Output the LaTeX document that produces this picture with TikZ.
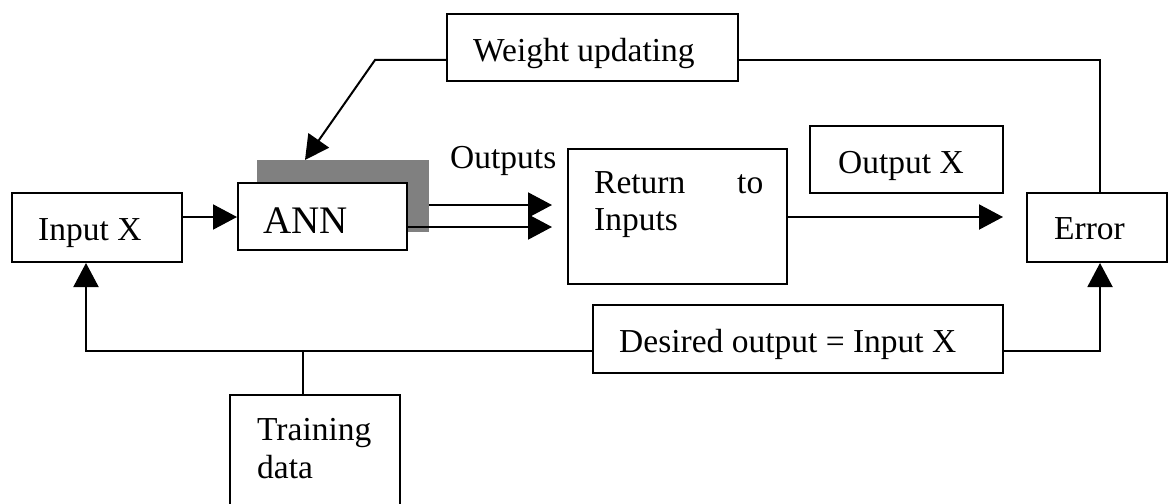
\documentclass[tikz,border=0pt]{standalone}
\usepackage{fontspec}
\setmainfont{Liberation Serif}
\usetikzlibrary{arrows.meta}
\definecolor{shadowgray}{HTML}{808080}
\tikzset{
  blk/.style={draw=black, line width=2pt, fill=white, inner sep=0pt, rectangle},
  lbl/.style={anchor=base west, inner sep=0pt, font=\fontsize{33.5}{40}\selectfont},
  wire/.style={draw=black, line width=2pt},
  arr/.style={wire, -{Triangle[length=24pt,width=25pt]}},
}
\begin{document}
\begin{tikzpicture}[x=1pt,y=-1pt]
\useasboundingbox (0,0) rectangle (1169,503);

% boxes (centre, width, height)
\node[blk, minimum width=170pt, minimum height=69pt] (inx) at (97,227.5) {};
\fill[shadowgray] (257,160) rectangle (429,232);
\node[blk, minimum width=169pt, minimum height=67pt] (ann) at (322.5,216.5) {};
\node[blk, minimum width=219pt, minimum height=135pt] (ret) at (677.5,216.5) {};
\node[blk, minimum width=193pt, minimum height=67pt] (outx) at (906.5,159.5) {};
\node[blk, minimum width=140pt, minimum height=69pt] (err) at (1097,227.5) {};
\node[blk, minimum width=291pt, minimum height=67pt] (wu) at (592.5,47.5) {};
\node[blk, minimum width=410pt, minimum height=68pt] (des) at (798,339) {};
\node[blk, minimum width=170pt, minimum height=120pt] (trn) at (315,455) {};

% texts
\node[lbl] (tinx) at (38,240) {Input X};
\node[lbl, font=\fontsize{39}{44}\selectfont] (tann) at (263,233) {ANN};
\node[lbl] (tout) at (450,168) {Outputs};
\node[lbl] (tret) at (594,193) {Return};
\node[lbl] (tto) at (737,193) {to};
\node[lbl] (tinp) at (594,230) {Inputs};
\node[lbl] (toutx) at (838,173) {Output X};
\node[lbl] (terr) at (1054,239) {Error};
\node[lbl] (twu) at (473,62) {Weight updating};
\node[lbl] (tdes) at (619,352) {Desired output = Input X};
\node[lbl] (ttrn) at (257,440) {Training};
\node[lbl] (tdata) at (257,478) {data};

% free ends and bends of the connectors
\coordinate (shadeR) at (429,205);
\coordinate (o1) at (552,205);
\coordinate (o2) at (552,227);
\coordinate (mid) at (0,217);
\coordinate (rx) at (1003,217);
\coordinate (wbend) at (375,60);
\coordinate (wtip) at (305,160);
\coordinate (ebend) at (1100,60);
\coordinate (lbend) at (86,351);
\coordinate (rbend) at (1100,351);
\coordinate (tj) at (303,351);

% connectors
\draw[arr] (inx.east |- mid) -- (ann.west |- mid);
\draw[arr] (shadeR) -- (o1);
\draw[arr] (ann.east |- o2) -- (o2);
\draw[arr] (ret.east |- mid) -- (rx);
\draw[arr] (wu.west |- wbend) -- (wbend) -- (wtip);
\draw[wire] (wu.east |- ebend) -- (ebend) -- (err.north -| ebend);
\draw[arr] (des.west |- lbend) -- (lbend) -- (inx.south -| lbend);
\draw[arr] (des.east |- rbend) -- (rbend) -- (err.south -| rbend);
\draw[wire] (trn.north -| tj) -- (tj);
\end{tikzpicture}
\end{document}
